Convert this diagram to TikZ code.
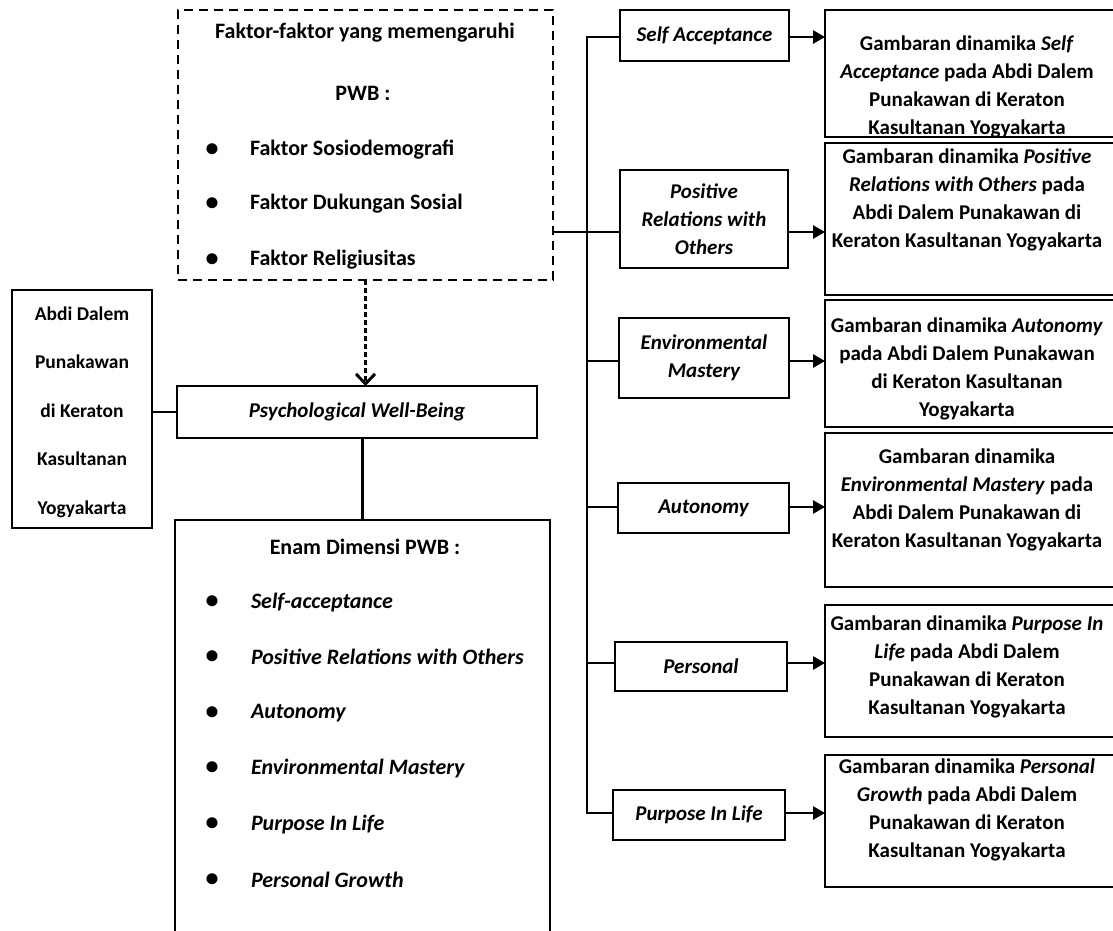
\documentclass[tikz,border=0pt]{standalone}
\usepackage{fontspec}
\setmainfont{Carlito}
\usetikzlibrary{arrows.meta}
\begin{document}
\begin{tikzpicture}[x=1pt,y=-1pt,
  box/.style={draw, line width=2.9pt, inner sep=0pt, outer sep=0pt, rectangle},
  dbox/.style={box, dash pattern=on 9pt off 6pt},
  txt/.style={inner sep=0pt, outer sep=0pt, font=\fontsize{21}{28}\selectfont\bfseries, align=center},
  itx/.style={txt, font=\fontsize{21}{28}\selectfont\bfseries\itshape},
  big/.style={font=\fontsize{22}{28}\selectfont\bfseries},
  bigi/.style={font=\fontsize{22}{28}\selectfont\bfseries\itshape},
  dot/.style={txt, font=\fontsize{26}{28}\selectfont\bfseries},
  lnk/.style={line width=2.9pt},
  arr/.style={line width=2.9pt, -{Triangle[length=12pt,width=13pt]}},
  darr/.style={line width=2.9pt, dash pattern=on 5pt off 3pt, -{Straight Barb[length=10pt,width=19pt,line width=2.9pt]}},
]
\useasboundingbox (0,0) rectangle (1113,930);
\clip (0,0) rectangle (1113,930);

% factors (dashed)
\node[dbox, minimum width=375pt, minimum height=270pt] (fk) at (365.5,145) {};
\node[txt, big] (fk1) at (365,33) {Faktor-faktor yang memengaruhi};
\node[txt, big] (fk2) at (363,93) {PWB :};
\node[dot] (fb1) at (212,150) {\textbullet};
\node[dot] (fb2) at (212,204) {\textbullet};
\node[dot] (fb3) at (212,260) {\textbullet};
\node[txt, big, anchor=west] (ft1) at (250,150) {Faktor Sosiodemografi};
\node[txt, big, anchor=west] (ft2) at (250,204) {Faktor Dukungan Sosial};
\node[txt, big, anchor=west] (ft3) at (250,260) {Faktor Religiusitas};

% left box
\node[box, minimum width=140pt, minimum height=238pt] (lb) at (82,409) {};
\node[txt, font=\fontsize{19.5}{48.5}\selectfont\bfseries] (lbt) at (82,412) {Abdi Dalem\\Punakawan\\di Keraton\\Kasultanan\\Yogyakarta};

% PWB
\node[box, itx, minimum width=360pt, minimum height=52pt] (pwb) at (357,412) {Psychological Well-Being};

% six dimensions box
\node[box, minimum width=375pt, minimum height=440pt] (en) at (362.5,740) {};
\node[txt, big] (en0) at (365,547) {Enam Dimensi PWB :};
\node[dot] (eb1) at (212,602) {\textbullet};
\node[dot] (eb2) at (212,657) {\textbullet};
\node[dot] (eb3) at (212,713) {\textbullet};
\node[dot] (eb4) at (212,768) {\textbullet};
\node[dot] (eb5) at (212,824) {\textbullet};
\node[dot] (eb6) at (212,880) {\textbullet};
\node[itx, bigi, anchor=west] (et1) at (251,602) {Self-acceptance};
\node[itx, bigi, anchor=west] (et2) at (251,657) {Positive Relations with Others};
\node[itx, bigi, anchor=west] (et3) at (251,713) {Autonomy};
\node[itx, bigi, anchor=west] (et4) at (251,768) {Environmental Mastery};
\node[itx, bigi, anchor=west] (et5) at (251,824) {Purpose In Life};
\node[itx, bigi, anchor=west] (et6) at (251,880) {Personal Growth};

% middle boxes
\node[box, itx, minimum width=169pt, minimum height=51pt] (m1) at (704.5,35.5) {Self Acceptance};
\node[box, itx, minimum width=168pt, minimum height=98pt] (m2) at (704,219) {Positive\\Relations with\\Others};
\node[box, itx, minimum width=170pt, minimum height=80pt] (m3) at (704,358) {Environmental\\Mastery};
\node[box, itx, minimum width=171pt, minimum height=50pt] (m4) at (703.5,508) {Autonomy};
\node[box, itx, minimum width=172pt, minimum height=49pt] (m5) at (701,666.5) {Personal};
\node[box, itx, minimum width=172pt, minimum height=50pt] (m6) at (699,815) {Purpose In Life};

% right boxes
\node[box, minimum width=295pt, minimum height=127pt] (r1) at (972.5,73.5) {};
\node[box, minimum width=295pt, minimum height=152pt] (r2) at (972.5,219) {};
\node[box, minimum width=295pt, minimum height=127pt] (r3) at (972.5,363.5) {};
\node[box, minimum width=295pt, minimum height=154pt] (r4) at (972.5,510) {};
\node[box, minimum width=295pt, minimum height=132pt] (r5) at (972.5,671) {};
\node[box, minimum width=295pt, minimum height=132pt] (r6) at (972.5,821) {};
\node[txt] (rt1) at (967,87) {Gambaran dinamika \textit{Self}\\\textit{Acceptance} pada Abdi Dalem\\Punakawan di Keraton\\Kasultanan Yogyakarta};
\node[txt] (rt2) at (967,200) {Gambaran dinamika \textit{Positive}\\\textit{Relations with Others} pada\\Abdi Dalem Punakawan di\\Keraton Kasultanan Yogyakarta};
\node[txt] (rt3) at (967,369) {Gambaran dinamika \textit{Autonomy}\\pada Abdi Dalem Punakawan\\di Keraton Kasultanan\\Yogyakarta};
\node[txt] (rt4) at (967,500) {Gambaran dinamika\\\textit{Environmental Mastery} pada\\Abdi Dalem Punakawan di\\Keraton Kasultanan Yogyakarta};
\node[txt] (rt5) at (967,667) {Gambaran dinamika \textit{Purpose In}\\\textit{Life} pada Abdi Dalem\\Punakawan di Keraton\\Kasultanan Yogyakarta};
\node[txt] (rt6) at (967,810) {Gambaran dinamika \textit{Personal}\\\textit{Growth} pada Abdi Dalem\\Punakawan di Keraton\\Kasultanan Yogyakarta};

% connectors
\draw[lnk] (lb.east |- pwb.west) -- (pwb.west);
\draw[lnk] (en.north |- pwb.south) -- (en.north);
\draw[darr] (fk.south) -- (fk.south |- pwb.north);

\coordinate (j1) at (587,37);
\coordinate (j2) at (587,232);
\coordinate (j3) at (587,361);
\coordinate (j4) at (587,507);
\coordinate (j5) at (587,663);
\coordinate (j6) at (587,813);
\draw[lnk] (j1 -| m1.west) -- (j1) -- (j6) -- (j6 -| m6.west);
\draw[lnk] (fk.east |- j2) -- (j2);
\foreach \i in {2,3,4,5} {
  \draw[lnk] (j\i) -- (j\i -| m\i.west);
}
\foreach \i in {1,...,6} {
  \draw[arr] (j\i -| m\i.east) -- (j\i -| r\i.west);
}
\end{tikzpicture}
\end{document}
